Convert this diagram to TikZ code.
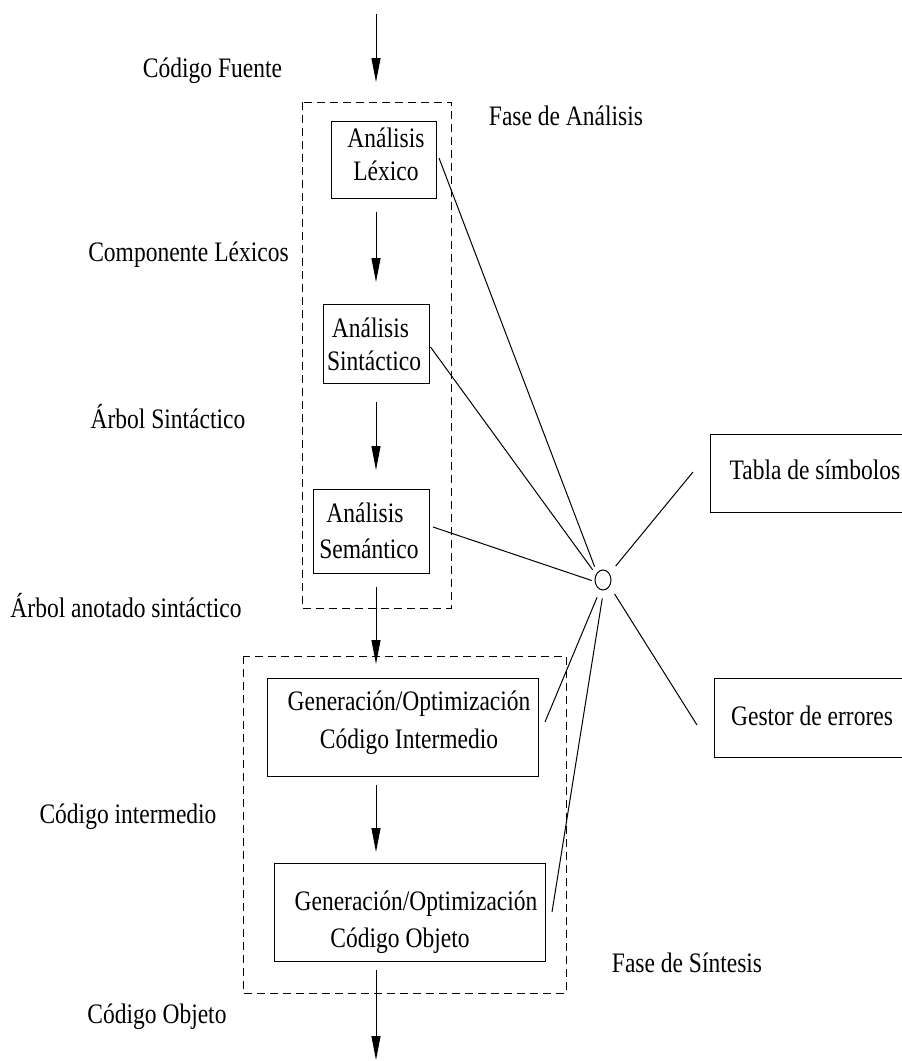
\documentclass[tikz,border=0pt]{standalone}
\usepackage{fontspec}
\setmainfont{Liberation Serif}
\usetikzlibrary{arrows.meta,shapes.geometric}
% text is set slightly taller than wide
\newcommand\tallText[1]{\scalebox{1}[1.2]{#1}}
\begin{document}
\begin{tikzpicture}[x=1pt,y=-1pt,
  every node/.style={font=\fontsize{23.5}{28}\selectfont},
  txt/.style={anchor=base, inner sep=0pt},
  box/.style={draw, line width=1pt, inner sep=0pt},
  phase/.style={draw, line width=1pt, dash pattern=on 8pt off 5pt},
  flow/.style={line width=1pt, -{Triangle[length=24pt,width=9pt]}},
  link/.style={line width=1pt},
  hubstyle/.style={draw, ellipse, line width=1pt, minimum width=16pt,
                   minimum height=20pt, inner sep=0pt}]
\clip (0,0) rectangle (902,1061);

% phase frames
\draw[phase] (302,102) rectangle (451,608);
\draw[phase] (243,656) rectangle (566,993);

% processing boxes
\node[box, minimum width=105pt, minimum height=77pt] (lex)   at (383.5,159.5) {};
\node[box, minimum width=106pt, minimum height=79pt] (syn)   at (376,343.5) {};
\node[box, minimum width=116pt, minimum height=84pt] (sem)   at (371,531) {};
\node[box, minimum width=271pt, minimum height=98pt] (inter) at (402.5,727) {};
\node[box, minimum width=271pt, minimum height=98pt] (obj)   at (409.5,912) {};
\node[box, minimum width=220pt, minimum height=78pt] (tab)   at (820,473) {};
\node[box, minimum width=216pt, minimum height=79pt] (ges)   at (822,717.5) {};
\node[hubstyle] (hub) at (603,580) {};

% texts inside the boxes
\node[txt] (lexA)   at (386,147)   {\tallText{Análisis}};
\node[txt] (lexB)   at (386,180)   {\tallText{Léxico}};
\node[txt] (synA)   at (370.5,337) {\tallText{Análisis}};
\node[txt] (synB)   at (374,370)   {\tallText{Sintáctico}};
\node[txt] (semA)   at (365,522)   {\tallText{Análisis}};
\node[txt] (semB)   at (369,558)   {\tallText{Semántico}};
\node[txt] (interA) at (409,710)   {\tallText{Generación/Optimización}};
\node[txt] (interB) at (409,748)   {\tallText{Código Intermedio}};
\node[txt] (objA)   at (416,910)   {\tallText{Generación/Optimización}};
\node[txt] (objB)   at (400,947)   {\tallText{Código Objeto}};
\node[txt] (tabT)   at (815,479)   {\tallText{Tabla de símbolos}};
\node[txt] (gesT)   at (812,725)   {\tallText{Gestor de errores}};

% labels of the data passed between phases
\node[txt] (lblFuente) at (212.5,77) {\tallText{Código Fuente}};
\node[txt] (lblFaseA)  at (566,125)  {\tallText{Fase de Análisis}};
\node[txt] (lblComp)   at (188.5,261){\tallText{Componente Léxicos}};
\node[txt] (lblArbol)  at (168,428)  {\tallText{Árbol Sintáctico}};
\node[txt] (lblAnot)   at (126,617)  {\tallText{Árbol anotado sintáctico}};
\node[txt] (lblInt)    at (128,823)  {\tallText{Código intermedio}};
\node[txt] (lblObj)    at (157,1023) {\tallText{Código Objeto}};
\node[txt] (lblFaseS)  at (687,972)  {\tallText{Fase de Síntesis}};

% main flow
\coordinate (spine) at (376,0);
\coordinate (src) at (376,14);
\coordinate (sink) at (376,1060);
\draw[flow, shorten >=38.5pt] (src) -- (spine |- lex.north);
\draw[flow, shorten <=13.5pt, shorten >=21.5pt] (spine |- lex.south) -- (spine |- syn.north);
\draw[flow, shorten <=18.5pt, shorten >=18.5pt] (spine |- syn.south) -- (spine |- sem.north);
\draw[flow, shorten <=13.5pt, shorten >=13.5pt] (spine |- sem.south) -- (spine |- inter.north);
\draw[flow, shorten <=8.5pt, shorten >=10.5pt] (spine |- inter.south) -- (spine |- obj.north);
\draw[flow, shorten <=8.5pt] (spine |- obj.south) -- (sink);

% links to the shared hub
\draw[link, shorten >=6.5pt] ([xshift=2.5pt,yshift=1.5pt]lex.east) -- (hub.130);
\draw[link, shorten >=5.5pt] ([xshift=1pt,yshift=-3.5pt]syn.east) -- (hub.141);
\draw[link, shorten >=3pt]   ([xshift=3.5pt,yshift=4pt]sem.east) -- (hub.190);
\draw[link, shorten >=8pt]   ([xshift=6.5pt,yshift=5pt]inter.east) -- (hub.254);
\draw[link, shorten >=8pt]   ([xshift=6.5pt]obj.east) -- (hub.273);
\draw[link, shorten >=9.5pt] ([xshift=-16.5pt,yshift=1pt]tab.west) -- (hub.45);
\draw[link, shorten >=9pt]   ([xshift=-16.5pt,yshift=-7.5pt]ges.west) -- (hub.317);
\end{tikzpicture}
\end{document}
